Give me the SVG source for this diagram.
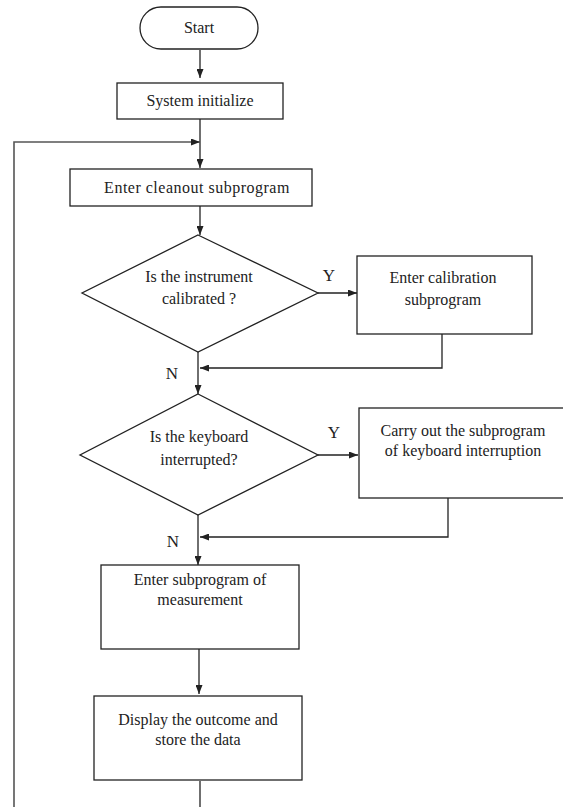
<svg xmlns="http://www.w3.org/2000/svg" width="563" height="807" viewBox="0 0 563 807">
<style>
.n{fill:#fff;stroke:#222;stroke-width:1.3}
.t{font-family:"Liberation Serif","Times New Roman",serif;font-size:16px;fill:#222;text-anchor:middle}
.l{font-family:"Liberation Serif","Times New Roman",serif;font-size:17px;fill:#222;text-anchor:middle}
.c{fill:none;stroke:#222;stroke-width:1.3}
.g{fill:none;stroke:#555;stroke-width:1.6}
</style>
<defs>
<marker id="a" markerWidth="9" markerHeight="7" refX="9" refY="3.5" orient="auto" markerUnits="userSpaceOnUse">
<path d="M0,0 L9,3.5 L0,7 Z" fill="#222"/>
</marker>
</defs>
<rect width="563" height="807" fill="#fff"/>
<g id="connectors">
<path class="c" d="M200,50 V78" marker-end="url(#a)"/>
<path class="c" d="M200,119 V168" marker-end="url(#a)"/>
<path class="g" d="M14,807 V142 H200" marker-end="url(#a)"/>
<path class="c" d="M200,206 V235" marker-end="url(#a)"/>
<path class="c" d="M318,293 H357" marker-end="url(#a)"/>
<path class="c" d="M442,334 V368 H200" marker-end="url(#a)"/>
<path class="c" d="M198,352 V394" marker-end="url(#a)"/>
<path class="c" d="M318,455 H358" marker-end="url(#a)"/>
<path class="c" d="M448,498 V537 H200" marker-end="url(#a)"/>
<path class="c" d="M198,515 V565" marker-end="url(#a)"/>
<path class="c" d="M199,649 V694" marker-end="url(#a)"/>
<path class="c" d="M200,781 V807"/>
<text class="l" x="329" y="281">Y</text>
<text class="l" x="172" y="379">N</text>
<text class="l" x="334" y="438">Y</text>
<text class="l" x="173" y="547">N</text>
</g>
<g id="start">
<rect class="n" x="140" y="7" width="118" height="42" rx="21"/>
<text class="t" x="199" y="33">Start</text>
</g>
<g id="init">
<rect class="n" x="117" y="83" width="166" height="36"/>
<text class="t" x="200" y="106">System initialize</text>
</g>
<g id="cleanout">
<rect class="n" x="70" y="169" width="242" height="37"/>
<text class="t" x="197" y="193" letter-spacing="0.5">Enter cleanout subprogram</text>
</g>
<g id="d1">
<polygon class="n" points="198,235 318,293 198,352 82,293"/>
<text class="t" x="199" y="282">Is the instrument</text>
<text class="t" x="199" y="304">calibrated ?</text>
</g>
<g id="calib">
<rect class="n" x="357" y="256" width="175" height="78"/>
<text class="t" x="443" y="283">Enter calibration</text>
<text class="t" x="443" y="305">subprogram</text>
</g>
<g id="d2">
<polygon class="n" points="198,394 318,455 198,515 80,455"/>
<text class="t" x="199" y="442">Is the keyboard</text>
<text class="t" x="199" y="465">interrupted?</text>
</g>
<g id="kbd">
<rect class="n" x="359" y="408" width="210" height="90"/>
<text class="t" x="463" y="436">Carry out the subprogram</text>
<text class="t" x="463" y="456">of keyboard interruption</text>
</g>
<g id="measure">
<rect class="n" x="101" y="565" width="198" height="84"/>
<text class="t" x="200" y="585">Enter subprogram of</text>
<text class="t" x="200" y="605">measurement</text>
</g>
<g id="display">
<rect class="n" x="94" y="696" width="208" height="84"/>
<text class="t" x="198" y="725">Display the outcome and</text>
<text class="t" x="198" y="745">store the data</text>
</g>
</svg>
